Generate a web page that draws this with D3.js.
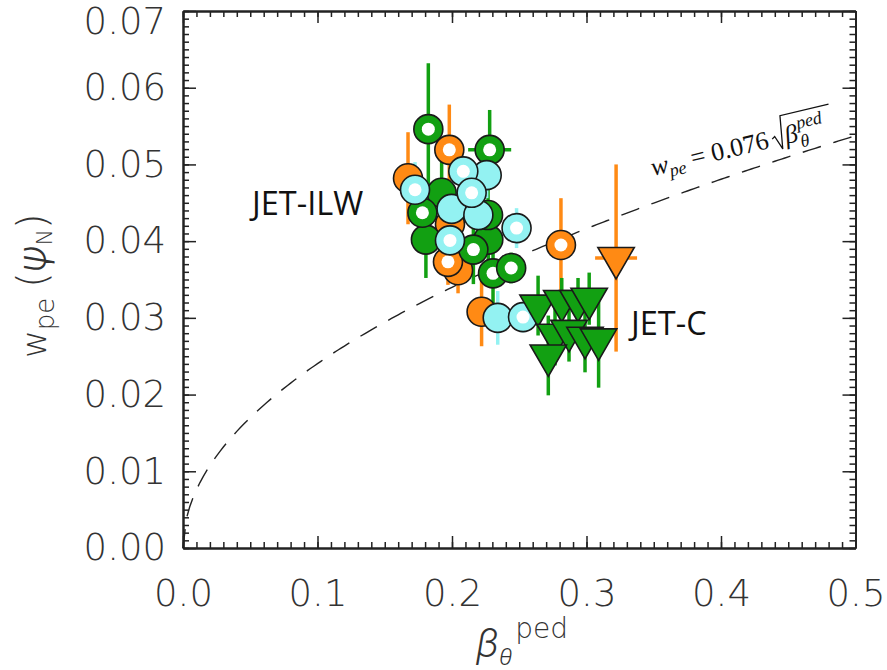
<!DOCTYPE html>
<html>
<head>
<meta charset="utf-8">
<script src="https://cdn.jsdelivr.net/npm/d3@7"></script>
<style>
  html, body { margin: 0; padding: 0; background: #fff; }
  svg { display: block; }
</style>
</head>
<body>
<svg id="chart" width="887" height="670"></svg>
<script>
// Pedestal width versus poloidal beta at the pedestal top.
// Each point: [beta_theta_ped, w_pe, w_pe error, beta error]

// JET-ILW
const orangeFilled = [
  [0.1673, 0.0482, 0.0060, 0],
  [0.1985, 0.0422, 0.0040, 0],
  [0.2045, 0.0362, 0.0030, 0],
  [0.2220, 0.0308, 0.0045, 0]
];
const greenFilled = [
  [0.1923, 0.0463, 0.0060, 0],
  [0.1806, 0.0402, 0.0050, 0],
  [0.2270, 0.0402, 0.0040, 0],
  [0.2268, 0.0434, 0.0040, 0]
];
const orangeRing = [
  [0.1980, 0.0519, 0.0059, 0],
  [0.1970, 0.0373, 0.0030, 0],
  [0.2810, 0.0395, 0.0061, 0]
];
const greenRing = [
  [0.1824, 0.0546, 0.0086, 0],
  [0.2280, 0.0519, 0.0052, 0.016],
  [0.1780, 0.0437, 0.0040, 0],
  [0.2159, 0.0389, 0.0045, 0],
  [0.2305, 0.0358, 0.0040, 0],
  [0.2440, 0.0365, 0.0020, 0]
];
const cyanFilled = [
  [0.2258, 0.0486, 0.0030, 0],
  [0.1997, 0.0442, 0.0020, 0],
  [0.2196, 0.0434, 0.0020, 0],
  [0.2340, 0.0300, 0.0035, 0]
];
const cyanRing = [
  [0.1725, 0.0467, 0.0036, 0],
  [0.2084, 0.0491, 0.0020, 0],
  [0.2146, 0.0463, 0.0020, 0],
  [0.2480, 0.0417, 0.0026, 0],
  [0.1985, 0.0401, 0.0020, 0],
  [0.2528, 0.0301, 0.0020, 0]
];

// JET-C
const greenTriangles = [
  [0.2640, 0.0316, 0.0039, 0],
  [0.2816, 0.0322, 0.0030, 0],
  [0.2937, 0.0322, 0.0030, 0],
  [0.3020, 0.0325, 0.0034, 0],
  [0.2766, 0.0278, 0.0040, 0],
  [0.2870, 0.0283, 0.0040, 0],
  [0.2989, 0.0274, 0.0045, 0],
  [0.3090, 0.0272, 0.0063, 0],
  [0.2716, 0.0251, 0.0052, 0]
];
const orangeTriangles = [
  [0.3220, 0.0378, 0.0122, 0.0156]
];

// Scaling law w_pe = 0.076 * sqrt(beta_theta_ped)
const fitCoef = 0.076;

const xMajor = [0, 0.1, 0.2, 0.3, 0.4, 0.5];
const xLabels = ["0.0", "0.1", "0.2", "0.3", "0.4", "0.5"];
const yMajor = [0, 0.01, 0.02, 0.03, 0.04, 0.05, 0.06, 0.07];
const yLabels = ["0.00", "0.01", "0.02", "0.03", "0.04", "0.05", "0.06", "0.07"];

const COL = { orange: "#ff8a14", green: "#12a012", cyan: "#93f2f2" };

const svg = d3.select("#chart");
const L = 183, R = 855.5, T = 11, B = 548;
const x = d3.scaleLinear().domain([0, 0.5]).range([L, R]);
const y = d3.scaleLinear().domain([0, 0.07]).range([B, T]);

const tickFont = "'DejaVu Sans', sans-serif";
const tickWeight = 200;
const greekFont = "Roboto, 'Noto Sans', sans-serif";

// ---- axes (ticks on all four sides, pointing inward) ----
const xMinor = d3.range(0, 51).map(i => i / 100);
const yMinor = d3.range(0, 71).map(i => i / 1000);

function styleAxis(g) {
  g.select(".domain").attr("stroke", "#222").attr("stroke-width", 2);
  g.selectAll(".tick line").attr("stroke", "#222").attr("stroke-width", 1.5);
}

// minor ticks
svg.append("g").attr("transform", `translate(0,${B})`)
  .call(d3.axisBottom(x).tickValues(xMinor).tickSize(-6).tickSizeOuter(0).tickFormat(""))
  .call(styleAxis);
svg.append("g").attr("transform", `translate(0,${T})`)
  .call(d3.axisTop(x).tickValues(xMinor).tickSize(-6).tickSizeOuter(0).tickFormat(""))
  .call(styleAxis);
svg.append("g").attr("transform", `translate(${L},0)`)
  .call(d3.axisLeft(y).tickValues(yMinor).tickSize(-6).tickSizeOuter(0).tickFormat(""))
  .call(styleAxis);
svg.append("g").attr("transform", `translate(${R},0)`)
  .call(d3.axisRight(y).tickValues(yMinor).tickSize(-6).tickSizeOuter(0).tickFormat(""))
  .call(styleAxis);

// major ticks with labels
const xAxis = svg.append("g").attr("transform", `translate(0,${B})`)
  .call(d3.axisBottom(x).tickValues(xMajor).tickSize(-12).tickSizeOuter(0).tickPadding(32)
    .tickFormat((d, i) => xLabels[i]))
  .call(styleAxis);
xAxis.selectAll("text")
  .attr("font-family", tickFont).attr("font-weight", tickWeight).attr("font-size", 37)
  .attr("fill", "#333");

const yAxis = svg.append("g").attr("transform", `translate(${L},0)`)
  .call(d3.axisLeft(y).tickValues(yMajor).tickSize(-13).tickSizeOuter(0).tickPadding(17)
    .tickFormat((d, i) => yLabels[i]))
  .call(styleAxis);
yAxis.selectAll("text")
  .attr("font-family", tickFont).attr("font-weight", tickWeight).attr("font-size", 37)
  .attr("fill", "#333");
// the top label is nudged down so it stays inside the page
yAxis.selectAll(".tick").filter(d => d === 0.07).select("text").attr("dy", "0.62em");

svg.append("g").attr("transform", `translate(0,${T})`)
  .call(d3.axisTop(x).tickValues(xMajor).tickSize(-12).tickSizeOuter(0).tickFormat(""))
  .call(styleAxis);
svg.append("g").attr("transform", `translate(${R},0)`)
  .call(d3.axisRight(y).tickValues(yMajor).tickSize(-13).tickSizeOuter(0).tickFormat(""))
  .call(styleAxis);

// ---- axis titles ----
const xt = svg.append("text").attr("x", 476).attr("y", 657)
  .attr("font-family", tickFont).attr("font-weight", tickWeight).attr("fill", "#333");
xt.append("tspan").attr("font-family", greekFont).attr("font-weight", 300)
  .attr("font-size", 40).attr("font-style", "italic").text("β");
xt.append("tspan").attr("font-family", greekFont).attr("font-weight", 300)
  .attr("font-size", 24).attr("font-style", "italic").attr("dy", 8).text("θ");
xt.append("tspan").attr("font-size", 28).attr("dx", 3).attr("dy", -27).text("ped");

const yt = svg.append("text").attr("transform", "translate(46,358) rotate(-90)")
  .attr("font-family", tickFont).attr("font-weight", tickWeight).attr("fill", "#333");
yt.append("tspan").attr("font-size", 34).text("w");
yt.append("tspan").attr("font-size", 26).attr("dy", 8).text("pe");
yt.append("tspan").attr("font-size", 40).attr("dx", 10).attr("dy", -8).text("(");
yt.append("tspan").attr("font-family", greekFont).attr("font-weight", 300)
  .attr("font-size", 40).attr("font-style", "italic").text("ψ");
yt.append("tspan").attr("font-size", 22).attr("dy", 6).text("N");
yt.append("tspan").attr("font-size", 40).attr("dy", -6).text(")");

// ---- scaling-law curve ----
const plot = svg.append("g");
const fitBeta = d3.range(0, 0.5001, 0.0025);
plot.append("path")
  .datum(fitBeta)
  .attr("fill", "none").attr("stroke", "#222").attr("stroke-width", 1.4)
  .attr("stroke-dasharray", "19,13")
  .attr("d", d3.line().x(b => x(b)).y(b => y(fitCoef * Math.sqrt(b))));

// ---- error bars ----
const allSeries = [
  [orangeFilled, COL.orange], [greenFilled, COL.green], [orangeRing, COL.orange],
  [greenRing, COL.green], [cyanFilled, COL.cyan], [cyanRing, COL.cyan],
  [greenTriangles, COL.green], [orangeTriangles, COL.orange]
];
const eb = plot.append("g").attr("stroke-width", 3.5);
allSeries.forEach(([pts, c]) => {
  eb.selectAll(null).data(pts).enter().append("line")
    .attr("stroke", c)
    .attr("x1", d => x(d[0])).attr("x2", d => x(d[0]))
    .attr("y1", d => y(d[1] - d[2])).attr("y2", d => y(d[1] + d[2]));
  eb.selectAll(null).data(pts.filter(d => d[3] > 0)).enter().append("line")
    .attr("stroke", c)
    .attr("x1", d => x(d[0] - d[3])).attr("x2", d => x(d[0] + d[3]))
    .attr("y1", d => y(d[1])).attr("y2", d => y(d[1]));
});

// ---- markers ----
const R_OUT = 14.5, R_IN = 6.5;
function circles(pts, c, ring) {
  const g = plot.append("g");
  const s = g.selectAll(null).data(pts).enter().append("g")
    .attr("transform", d => `translate(${x(d[0])},${y(d[1])})`);
  s.append("circle").attr("r", R_OUT).attr("fill", c)
    .attr("stroke", "#1a1a1a").attr("stroke-width", 1.6);
  if (ring) s.append("circle").attr("r", R_IN).attr("fill", "#fff");
}
const triPath = "M0,21 L-18.2,-10.5 L18.2,-10.5 Z";
function triangles(pts, c) {
  plot.append("g").selectAll(null).data(pts).enter().append("path")
    .attr("d", triPath)
    .attr("transform", d => `translate(${x(d[0])},${y(d[1])})`)
    .attr("fill", c).attr("stroke", "#1a1a1a").attr("stroke-width", 1.6)
    .attr("stroke-linejoin", "miter");
}
circles(orangeFilled, COL.orange, false);
circles(greenFilled, COL.green, false);
circles(orangeRing, COL.orange, true);
circles(greenRing, COL.green, true);
circles(cyanFilled, COL.cyan, false);
circles(cyanRing, COL.cyan, true);
triangles(greenTriangles, COL.green);
triangles(orangeTriangles, COL.orange);

// ---- annotations ----
const labFont = "'Open Sans', 'Noto Sans', sans-serif";
svg.append("text").attr("x", 252).attr("y", 215)
  .attr("font-family", labFont).attr("font-size", 32.5).attr("fill", "#111").text("JET-ILW");
svg.append("text").attr("x", 631).attr("y", 335)
  .attr("font-family", labFont).attr("font-size", 32.5).attr("fill", "#111").text("JET-C");

// equation of the curve, set along the slope of the dashed line
const eqFont = "'Liberation Serif', 'DejaVu Serif', serif";
const eq = svg.append("g").attr("transform", "translate(653,176) rotate(-13.5)");
const eqText = eq.append("text").attr("font-family", eqFont).attr("font-size", 26).attr("fill", "#111");
eqText.append("tspan").attr("font-style", "italic").text("w");
eqText.append("tspan").attr("font-style", "italic").attr("font-size", 18).attr("dy", 5).text("pe");
eqText.append("tspan").attr("dy", -5).text(" = 0.076");
const w1 = eqText.node().getComputedTextLength();
const rad = eq.append("text").attr("font-family", eqFont).attr("fill", "#111")
  .attr("x", w1 + 17).attr("y", 0);
rad.append("tspan").attr("font-style", "italic").attr("font-size", 26).text("β");
const bW = rad.node().getComputedTextLength();
rad.append("tspan").attr("font-style", "italic").attr("font-size", 18)
  .attr("x", w1 + 17 + bW + 1).attr("y", 7).text("θ");
rad.append("tspan").attr("font-style", "italic").attr("font-size", 18)
  .attr("x", w1 + 17 + bW + 1).attr("y", -12).text("ped");
const rW = rad.node().getBBox().width;
const r0 = w1 + 4;
eq.append("path")
  .attr("d", `M${r0},-8 L${r0 + 3},-10 L${r0 + 8},4 L${r0 + 13},-29 L${r0 + 13 + rW + 8},-29`)
  .attr("fill", "none").attr("stroke", "#111").attr("stroke-width", 1.3);
</script>
</body>
</html>
